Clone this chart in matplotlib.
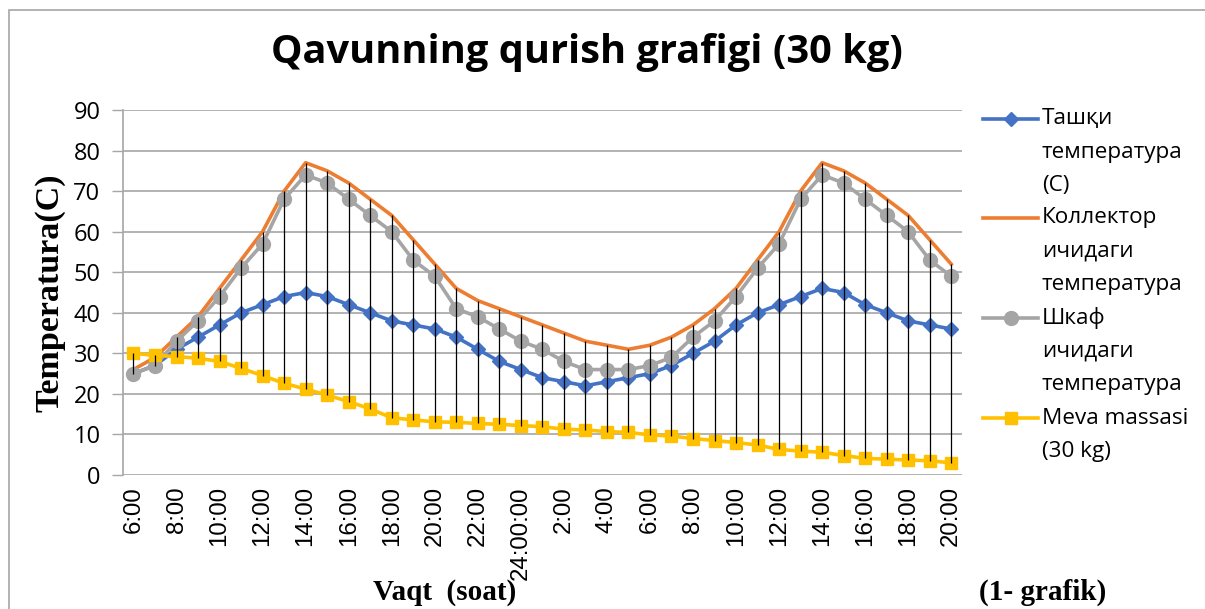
import matplotlib
matplotlib.use("Agg")
import matplotlib.pyplot as plt
import numpy as np
from matplotlib.lines import Line2D
from matplotlib.patches import Rectangle

# soatlar: 6:00 dan 24:00 gacha, keyin 1:00 dan 20:00 gacha
soatlar = list(range(6, 25)) + list(range(1, 21))
x_yorliqlar = ["6:00", "8:00", "10:00", "12:00", "14:00", "16:00", "18:00", "20:00",
               "22:00", "24:00:00", "2:00", "4:00", "6:00", "8:00", "10:00", "12:00",
               "14:00", "16:00", "18:00", "20:00"]

tashqi = [25, 27, 31, 34, 37, 40, 42, 44, 45, 44, 42, 40, 38, 37, 36, 34, 31, 28, 26,
          24, 23, 22, 23, 24, 25, 27, 30, 33, 37, 40, 42, 44, 46, 45, 42, 40, 38, 37, 36]
kollektor = [26, 29, 34, 39, 46, 53, 60, 70, 77, 75, 72, 68, 64, 58, 52, 46, 43, 41, 39,
             37, 35, 33, 32, 31, 32, 34, 37, 41, 46, 53, 60, 70, 77, 75, 72, 68, 64, 58, 52]
shkaf = [25, 27, 33, 38, 44, 51, 57, 68, 74, 72, 68, 64, 60, 53, 49, 41, 39, 36, 33,
         31, 28, 26, 26, 26, 27, 29, 34, 38, 44, 51, 57, 68, 74, 72, 68, 64, 60, 53, 49]
massa = [30, 29.5, 29.2, 28.8, 28, 26.3, 24.5, 22.6, 21.2, 19.7, 18.1, 16.3, 14.1, 13.6,
         13.1, 13, 12.7, 12.5, 12.2, 11.9, 11.3, 11.1, 10.7, 10.5, 9.9, 9.6, 9.0, 8.5,
         8.0, 7.4, 6.3, 5.9, 5.6, 4.8, 4.1, 3.9, 3.7, 3.5, 3.0]

nomlar = ["Ташқи\nтемпература\n(C)", "Коллектор\nичидаги\nтемпература",
          "Шкаф\nичидаги\nтемпература", "Meva massasi\n(30 kg)"]

ranglar = ["#4472C4", "#ED7D31", "#A5A5A5", "#FFC000"]
markerlar = ["D", None, "o", "s"]
msizes = [7.5, 0, 10, 8]

W, H = 1205, 609
fig = plt.figure(figsize=(W / 100, H / 100), dpi=100)
ax = fig.add_axes([122.7 / W, 1 - 475 / H, (962 - 122.7) / W, (475 - 110) / H])

x = np.arange(len(soatlar))
seriyalar = [tashqi, kollektor, shkaf, massa]
for i, s in enumerate(seriyalar):
    ax.plot(x, s, color=ranglar[i], lw=2.6, marker=markerlar[i], ms=msizes[i],
            zorder=3 + i)

# high-low chiziqlari
arr = np.array(seriyalar)
ax.vlines(x, arr.min(axis=0), arr.max(axis=0), color="black", lw=0.9, zorder=10)

ax.set_xlim(-0.5, len(x) - 0.5)
ax.set_ylim(0, 90)
ax.set_yticks(range(0, 91, 10))
ax.set_xticks(x[::2])
ax.set_xticklabels(x_yorliqlar, rotation=90, fontsize=17.3, family="Liberation Sans")
for t in ax.get_yticklabels():
    t.set_family("Open Sans")
    t.set_fontsize(17)
ax.tick_params(axis="x", length=0, pad=8)
ax.tick_params(axis="y", length=8, width=1, color="#A6A6A6", pad=8)
ax.grid(axis="y", color="#A6A6A6", lw=1.2)
ax.set_axisbelow(True)
for sp in ["top", "right", "bottom"]:
    ax.spines[sp].set_visible(False)
ax.spines["left"].set_color("#A6A6A6")
ax.spines["left"].set_linewidth(1.2)

ax.set_ylabel("Temperatura(C)", family="Liberation Serif", fontweight="bold",
              fontsize=24.5, labelpad=6)

fig.text(587 / W, 1 - 53 / H, "Qavunning qurish grafigi (30 kg)", ha="center",
         va="center", fontsize=28.6, fontweight="bold", family="Open Sans")
fig.text(445 / W, 1 - 592 / H, "Vaqt  (soat)", ha="center", va="center",
         fontsize=21, fontweight="bold", family="Liberation Serif")
fig.text(1043 / W, 1 - 592 / H, "(1- grafik)", ha="center", va="center",
         fontsize=21, fontweight="bold", family="Liberation Serif")

# legend
ystart = [119, 218, 318, 418]
for i, nom in enumerate(nomlar):
    yy = 1 - ystart[i] / H
    fig.add_artist(Line2D([983 / W, 1038 / W], [yy, yy], color=ranglar[i], lw=2.6,
                          transform=fig.transFigure))
    if markerlar[i]:
        fig.add_artist(Line2D([1010.5 / W], [yy], color=ranglar[i], marker=markerlar[i],
                              ms=msizes[i], transform=fig.transFigure))
    for j, qator in enumerate(nom.split("\n")):
        fig.text(1042 / W, 1 - (ystart[i] + 33.2 * j) / H, qator, ha="left",
                 va="center", fontsize=16.2, family="Open Sans")

fig.add_artist(Rectangle((8.5 / W, -0.1), 1.2, 1 - 10 / H + 0.1, fill=False,
                         ec="#A6A6A6", lw=1.2, transform=fig.transFigure))

fig.savefig("out.png", dpi=100)
